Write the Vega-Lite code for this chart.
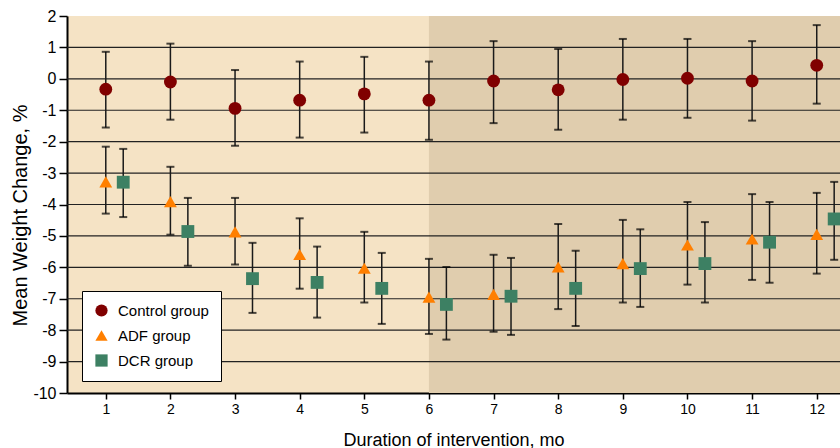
{
  "$schema": "https://vega.github.io/schema/vega-lite/v6.json",
  "width": 773,
  "height": 377,
  "autosize": {"type": "none"},
  "padding": {"left": 67, "top": 16, "right": 0, "bottom": 55},
  "background": "white",
  "config": {
    "font": "Liberation Sans",
    "view": {"fill": "#f5e3c5", "stroke": null},
    "axisY": {"labelOverlap": false, "labelBound": false, "labelFontSize": 16, "labelColor": "#000000", "labelPadding": 3, "titleFontSize": 20, "titleFontWeight": "normal", "titleColor": "#000000", "tickSize": 8, "tickWidth": 1.5, "tickColor": "#000000", "domainColor": "#000000", "domainWidth": 2, "grid": false},
    "locale": {"number": {"decimal": ".", "thousands": ",", "grouping": [3], "currency": ["$", ""], "minus": "-"}}
  },
  "datasets": {
    "bands": [{"start": 6, "end": 12.36}],
    "grid": [{"v": -9}, {"v": -8}, {"v": -7}, {"v": -6}, {"v": -5}, {"v": -4}, {"v": -3}, {"v": -2}, {"v": -1}, {"v": 0}, {"v": 1}],
    "points": [
      {"group": "Control group", "month": 1, "x": 1, "mean": -0.33, "lo": -1.55, "hi": 0.86},
      {"group": "Control group", "month": 2, "x": 2, "mean": -0.10, "lo": -1.30, "hi": 1.12},
      {"group": "Control group", "month": 3, "x": 3, "mean": -0.94, "lo": -2.13, "hi": 0.28},
      {"group": "Control group", "month": 4, "x": 4, "mean": -0.68, "lo": -1.87, "hi": 0.55},
      {"group": "Control group", "month": 5, "x": 5, "mean": -0.48, "lo": -1.71, "hi": 0.70},
      {"group": "Control group", "month": 6, "x": 6, "mean": -0.68, "lo": -1.94, "hi": 0.55},
      {"group": "Control group", "month": 7, "x": 7, "mean": -0.07, "lo": -1.41, "hi": 1.20},
      {"group": "Control group", "month": 8, "x": 8, "mean": -0.35, "lo": -1.62, "hi": 0.95},
      {"group": "Control group", "month": 9, "x": 9, "mean": -0.02, "lo": -1.30, "hi": 1.27},
      {"group": "Control group", "month": 10, "x": 10, "mean": 0.02, "lo": -1.24, "hi": 1.27},
      {"group": "Control group", "month": 11, "x": 11, "mean": -0.07, "lo": -1.33, "hi": 1.20},
      {"group": "Control group", "month": 12, "x": 12, "mean": 0.43, "lo": -0.79, "hi": 1.71},
      {"group": "ADF group", "month": 1, "x": 1, "mean": -3.28, "lo": -4.29, "hi": -2.16},
      {"group": "ADF group", "month": 2, "x": 2, "mean": -3.91, "lo": -4.96, "hi": -2.80},
      {"group": "ADF group", "month": 3, "x": 3, "mean": -4.87, "lo": -5.91, "hi": -3.79},
      {"group": "ADF group", "month": 4, "x": 4, "mean": -5.59, "lo": -6.68, "hi": -4.44},
      {"group": "ADF group", "month": 5, "x": 5, "mean": -6.03, "lo": -7.12, "hi": -4.87},
      {"group": "ADF group", "month": 6, "x": 6, "mean": -6.95, "lo": -8.12, "hi": -5.73},
      {"group": "ADF group", "month": 7, "x": 7, "mean": -6.86, "lo": -8.05, "hi": -5.60},
      {"group": "ADF group", "month": 8, "x": 8, "mean": -5.99, "lo": -7.33, "hi": -4.62},
      {"group": "ADF group", "month": 9, "x": 9, "mean": -5.88, "lo": -7.12, "hi": -4.49},
      {"group": "ADF group", "month": 10, "x": 10, "mean": -5.29, "lo": -6.55, "hi": -3.92},
      {"group": "ADF group", "month": 11, "x": 11, "mean": -5.10, "lo": -6.40, "hi": -3.67},
      {"group": "ADF group", "month": 12, "x": 12, "mean": -4.95, "lo": -6.20, "hi": -3.63},
      {"group": "DCR group", "month": 1, "x": 1.27, "mean": -3.29, "lo": -4.40, "hi": -2.23},
      {"group": "DCR group", "month": 2, "x": 2.27, "mean": -4.86, "lo": -5.95, "hi": -3.79},
      {"group": "DCR group", "month": 3, "x": 3.27, "mean": -6.36, "lo": -7.45, "hi": -5.22},
      {"group": "DCR group", "month": 4, "x": 4.27, "mean": -6.48, "lo": -7.60, "hi": -5.34},
      {"group": "DCR group", "month": 5, "x": 5.27, "mean": -6.67, "lo": -7.80, "hi": -5.54},
      {"group": "DCR group", "month": 6, "x": 6.27, "mean": -7.18, "lo": -8.30, "hi": -5.99},
      {"group": "DCR group", "month": 7, "x": 7.27, "mean": -6.92, "lo": -8.15, "hi": -5.70},
      {"group": "DCR group", "month": 8, "x": 8.27, "mean": -6.67, "lo": -7.87, "hi": -5.47},
      {"group": "DCR group", "month": 9, "x": 9.27, "mean": -6.04, "lo": -7.26, "hi": -4.79},
      {"group": "DCR group", "month": 10, "x": 10.27, "mean": -5.88, "lo": -7.12, "hi": -4.56},
      {"group": "DCR group", "month": 11, "x": 11.27, "mean": -5.20, "lo": -6.49, "hi": -3.92},
      {"group": "DCR group", "month": 12, "x": 12.27, "mean": -4.46, "lo": -5.76, "hi": -3.28}
    ]
  },
  "layer": [
    {
      "data": {"name": "bands"},
      "mark": {"type": "rect", "color": "#e0cdae"},
      "encoding": {
        "x": {"field": "start", "type": "quantitative", "scale": {"domain": [0.4, 12.36], "nice": false, "zero": false},
          "axis": {"values": [1, 2, 3, 4, 5, 6, 7, 8, 9, 10, 11, 12], "format": "d", "grid": false, "labelOverlap": false, "domainColor": "#000000", "domainWidth": 2, "tickColor": "#000000", "tickSize": 6, "tickWidth": 1.5, "labelFontSize": 14, "labelColor": "#000000", "labelPadding": 3, "title": "Duration of intervention, mo", "titleFontSize": 18, "titleFontWeight": "normal", "titleColor": "#000000", "titlePadding": 15}},
        "x2": {"field": "end"}
      }
    },
    {
      "data": {"name": "grid"},
      "mark": {"type": "rule", "color": "#222222", "strokeWidth": 1.2},
      "encoding": {
        "y": {"field": "v", "type": "quantitative", "scale": {"domain": [-10, 2], "nice": false, "zero": false},
          "axis": {"values": [-10, -9, -8, -7, -6, -5, -4, -3, -2, -1, 0, 1, 2], "format": "d", "labelOverlap": false, "labelFontSize": 16, "title": "Mean Weight Change, %", "titlePadding": 2, "titleY": 199}}
      }
    },
    {
      "data": {"name": "points"},
      "mark": {"type": "rule", "color": "#1a1a1a", "strokeWidth": 1.5},
      "encoding": {
        "x": {"field": "x", "type": "quantitative"},
        "y": {"field": "lo", "type": "quantitative", "axis": {"values": [-10, -9, -8, -7, -6, -5, -4, -3, -2, -1, 0, 1, 2], "format": "d", "labelOverlap": false, "labelFontSize": 16, "title": "Mean Weight Change, %", "titlePadding": 2, "titleY": 199}},
        "y2": {"field": "hi"}
      }
    },
    {
      "data": {"name": "points"},
      "mark": {"type": "tick", "orient": "horizontal", "color": "#000000", "size": 8, "thickness": 2},
      "encoding": {
        "x": {"field": "x", "type": "quantitative"},
        "y": {"field": "lo", "type": "quantitative", "axis": {"values": [-10, -9, -8, -7, -6, -5, -4, -3, -2, -1, 0, 1, 2], "format": "d", "labelOverlap": false, "labelFontSize": 16, "title": "Mean Weight Change, %", "titlePadding": 2, "titleY": 199}}
      }
    },
    {
      "data": {"name": "points"},
      "mark": {"type": "tick", "orient": "horizontal", "color": "#000000", "size": 8, "thickness": 2},
      "encoding": {
        "x": {"field": "x", "type": "quantitative"},
        "y": {"field": "hi", "type": "quantitative", "axis": {"values": [-10, -9, -8, -7, -6, -5, -4, -3, -2, -1, 0, 1, 2], "format": "d", "labelOverlap": false, "labelFontSize": 16, "title": "Mean Weight Change, %", "titlePadding": 2, "titleY": 199}}
      }
    },
    {
      "data": {"name": "points"},
      "mark": {"type": "point", "filled": true, "opacity": 1, "size": 165},
      "encoding": {
        "x": {"field": "x", "type": "quantitative"},
        "y": {"field": "mean", "type": "quantitative", "axis": {"values": [-10, -9, -8, -7, -6, -5, -4, -3, -2, -1, 0, 1, 2], "format": "d", "labelOverlap": false, "labelFontSize": 16, "title": "Mean Weight Change, %", "titlePadding": 2, "titleY": 199}},
        "color": {"field": "group", "type": "nominal",
          "scale": {"domain": ["Control group", "ADF group", "DCR group"], "range": ["#800000", "#ff7f00", "#3d8063"]},
          "legend": {"orient": "none", "legendX": 15, "legendY": 275, "title": null, "fillColor": "#ffffff", "strokeColor": "#000000", "padding": 12, "labelFontSize": 15, "labelColor": "#000000", "symbolSize": 150, "rowPadding": 9, "labelOffset": 9, "symbolStrokeWidth": 0}},
        "shape": {"field": "group", "type": "nominal",
          "scale": {"domain": ["Control group", "ADF group", "DCR group"], "range": ["circle", "triangle-up", "square"]}}
      }
    }
  ]
}
